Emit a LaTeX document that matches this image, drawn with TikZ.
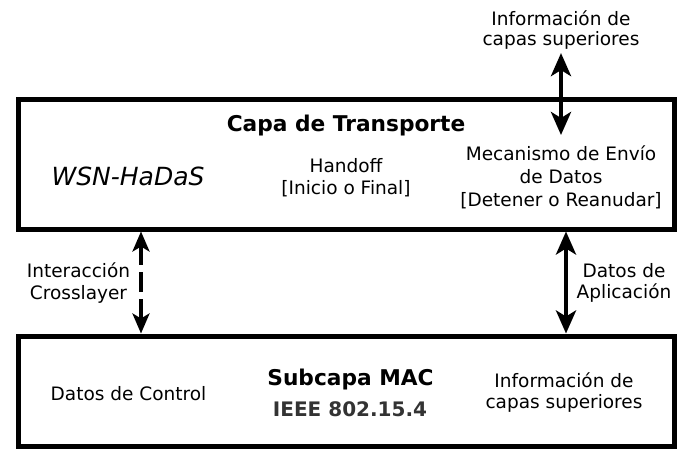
\documentclass[tikz,border=0pt]{standalone}
\usepackage{fontspec}
\setmainfont{DejaVu Sans}
\usetikzlibrary{arrows.meta, positioning}

\begin{document}
\begin{tikzpicture}[x=1pt, y=-1pt,
    capa/.style={draw, line width=5pt, minimum width=656pt},
    texto/.style={align=center, font=\fontsize{18.5}{22}\selectfont, anchor=base},
    titulo/.style={font=\fontsize{21.7}{26}\bfseries\selectfont, anchor=base},
    flecha/.style={line width=4.2pt, {Stealth[length=23pt, width=20pt, inset=6pt]}-{Stealth[length=23pt, width=20pt, inset=6pt]}},
    flechacross/.style={line width=3.5pt, dash pattern=on 20pt off 7pt, {Stealth[length=20pt, width=17pt, inset=5pt]}-{Stealth[length=20pt, width=17pt, inset=5pt]}}
]
    \useasboundingbox (0,0) rectangle (686,466);

    % capas
    \node[capa, minimum height=130pt] (cTransporte) at (346,164) {};
    \node[capa, minimum height=110pt] (cMAC) at (346,391) {};

    % textos capa de transporte
    \node[titulo] (tTransporte) at (346,131) {Capa de Transporte};
    \node[texto, font=\fontsize{25}{29}\itshape\selectfont] (tWSN) at (128,185) {WSN-HaDaS};
    \node[texto, font=\fontsize{18.5}{21.5}\selectfont] (tHandoff) at (346,194) {Handoff\\{}[Inicio o Final]};
    \node[texto, font=\fontsize{18.5}{22.7}\selectfont] (tMecanismo) at (561,206) {Mecanismo de Envío\\de Datos\\{}[Detener o Reanudar]};
    \node[texto, font=\fontsize{18.5}{20}\selectfont] (tInfoArriba) at (561,45.7) {Información de\\capas superiores};

    % textos subcapa MAC
    \node[titulo] (tSubcapa) at (350.5,385) {Subcapa MAC};
    \node[titulo, font=\fontsize{20}{24}\bfseries\selectfont, text=black!80] (tIEEE) at (350,416) {IEEE 802.15.4};
    \node[texto] (tControl) at (128.5,400) {Datos de Control};
    \node[texto, font=\fontsize{18.5}{20.5}\selectfont] (tInfoAbajo) at (564,408) {Información de\\capas superiores};

    % textos entre capas
    \node[texto, font=\fontsize{18.5}{21.5}\selectfont] (tCross) at (78.5,299.3) {Interacción\\Crosslayer};
    \node[texto, font=\fontsize{18.5}{21}\selectfont] (tAplic) at (624,298.3) {Datos de\\Aplicación};

    % flechas
    \coordinate (cEnvioPt) at (561,135);
    \coordinate (cCrossPt) at (141,0);
    \coordinate (cAplicPt) at (566,0);
    \draw[flecha] (tInfoArriba.south) -- (cEnvioPt);
    \draw[flechacross] (cTransporte.south -| cCrossPt) -- (cMAC.north -| cCrossPt);
    \draw[flecha] (cTransporte.south -| cAplicPt) -- (cMAC.north -| cAplicPt);

\end{tikzpicture}
\end{document}
